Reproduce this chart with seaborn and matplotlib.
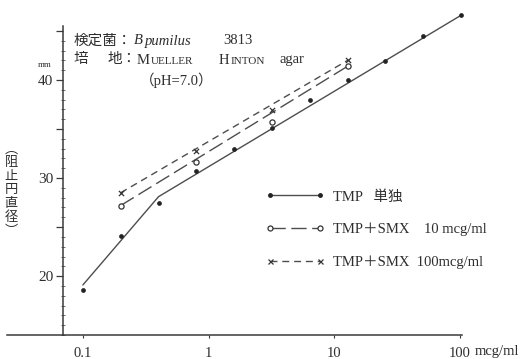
import matplotlib
matplotlib.use("Agg")
import matplotlib.pyplot as plt
from matplotlib.lines import Line2D
from matplotlib.ticker import FixedLocator, MultipleLocator, FuncFormatter, NullLocator
import pandas as pd
import seaborn as sns

# TMP concentration (mcg/ml), doubling dilutions
conc = [0.1, 0.2, 0.4, 0.8, 1.6, 3.2, 6.4, 12.8, 25.6, 51.2, 102.4]
# zone diameter (mm), TMP alone
tmp_alone = [18.6, 24.1, 27.5, 30.7, 33.0, 35.1, 38.0, 40.0, 41.9, 44.5, 46.6]
# fitted line for TMP alone (two segments)
tmp_fit_conc = [0.1, 0.4, 102.4]
tmp_fit_mm = [19.1, 28.1, 46.6]

# TMP + SMX combinations
combo_conc = [0.2, 0.8, 3.2, 12.8]
smx10 = [27.2, 31.6, 35.7, 41.4]
smx100 = [28.5, 32.8, 36.9, 42.0]
combo_fit_conc = [0.2, 12.8]
smx10_fit = [27.2, 41.4]
smx100_fit = [28.5, 42.0]

xtick_vals = [0.1, 1, 10, 100]
xtick_labels = ["0.1", "1", "10", "100"]
ytick_major = [20, 25, 30, 35, 40, 45]

legend_labels = ["TMP   単独", "TMP＋SMX    10 mcg/ml", "TMP＋SMX  100mcg/ml"]

sns.set_theme(style="white")
FAM = ["Liberation Serif", "Noto Sans CJK JP"]
plt.rcParams["font.family"] = FAM
INK = "#2e2e2e"
LINE = "#4d4d4d"

W, H = 520, 359
fig = plt.figure(figsize=(W / 100, H / 100), dpi=100)
fig.patch.set_facecolor("white")
ax = fig.add_axes([7 / W, 24 / H, 455 / W, 309 / H])
ax.set_facecolor("white")
ax.set_xscale("log")

lw = 1.0
long_dash = (0, (11, 4))
short_dash = (0, (5, 3.5))

# fitted lines
sns.lineplot(x=tmp_fit_conc, y=tmp_fit_mm, ax=ax, color=LINE, lw=lw, clip_on=False)
sns.lineplot(x=combo_fit_conc, y=smx10_fit, ax=ax, color=LINE, lw=lw,
             linestyle=long_dash, clip_on=False)
sns.lineplot(x=combo_fit_conc, y=smx100_fit, ax=ax, color=LINE, lw=lw,
             linestyle=short_dash, clip_on=False)

# measured points
sns.scatterplot(x=conc, y=tmp_alone, ax=ax, marker="o", s=8, color="#222222",
                edgecolor="#222222", linewidth=0.5, clip_on=False, zorder=3)
sns.scatterplot(x=combo_conc, y=smx10, ax=ax, marker="o", s=14, facecolor="white",
                edgecolor="#333333", linewidth=0.9, clip_on=False, zorder=3)
sns.scatterplot(x=combo_conc, y=smx100, ax=ax, marker="x", s=14, color="#333333",
                linewidth=0.9, clip_on=False, zorder=3)

# axes
ax.set_xlim(0.0249, 104)
ax.set_ylim(14.0, 45.5)
ax.set_xlabel("")
ax.set_ylabel("")
for s in ("top", "right"):
    ax.spines[s].set_visible(False)
ax.spines["left"].set_position(("data", 0.0693))
for s in ("left", "bottom"):
    ax.spines[s].set_color("#3a3a3a")
    ax.spines[s].set_linewidth(1.1)

ax.xaxis.set_major_locator(FixedLocator(xtick_vals))
ax.set_xticklabels(xtick_labels)
ax.xaxis.set_minor_locator(NullLocator())
ax.tick_params(axis="x", which="major", direction="out", length=2.5, width=0.8,
               color="#3a3a3a", pad=6, labelsize=10.5, labelcolor=INK, bottom=True)

ax.yaxis.set_major_locator(FixedLocator(ytick_major))
ax.yaxis.set_major_formatter(FuncFormatter(lambda v, p: f"{v:.0f}" if v % 10 == 0 else ""))
ax.yaxis.set_minor_locator(MultipleLocator(1))
ax.tick_params(axis="y", which="major", direction="out", length=5, width=0.9,
               color="#3a3a3a", pad=2, labelsize=11, labelcolor=INK, left=True)
ax.tick_params(axis="y", which="minor", direction="inout", length=3, width=0.6,
               color="#555555", left=True)


def px(x, y):
    return x / W, 1 - y / H


# unit labels
fig.text(*px(475, 352), "mcg/ml", ha="left", va="center", fontsize=10.5, color=INK)
fig.text(*px(45, 65), "mm", ha="center", va="center", fontsize=6.5, color=INK)

# vertical axis title, characters stacked
ytitle = "\n".join(["︵", "阻", "止", "円", "直", "径", "︶"])
fig.text(*px(11, 190), ytitle, ha="center", va="center", fontsize=9.5,
         linespacing=1.08, color=INK, family=["Noto Sans CJK JP"])

# test organism and medium
tkw = dict(va="center", color=INK, fontsize=10.5)
fig.text(*px(74, 41), "検定菌：", ha="left", **tkw)
fig.text(*px(134, 41), "B", ha="left", style="italic", **tkw)
fig.text(*px(145, 41), "pumilus", ha="left", style="italic", **tkw)
fig.text(*px(223, 41), "3813", ha="left", **tkw)
fig.text(*px(74, 60), "培", ha="left", **tkw)
fig.text(*px(108, 60), "地：", ha="left", **tkw)
fig.text(*px(137, 60), "M", ha="left", **tkw)
fig.text(*px(151, 61), "UELLER", ha="left", va="center", color=INK, fontsize=8)
fig.text(*px(219, 60), "H", ha="left", **tkw)
fig.text(*px(231, 61), "INTON", ha="left", va="center", color=INK, fontsize=8)
fig.text(*px(280, 60), "agar", ha="left", **tkw)
fig.text(*px(140, 80), "（pH=7.0）", ha="left", **tkw)

# legend with markers at both ends of each sample line
handles = [
    Line2D([], [], color=LINE, lw=lw, marker="o", ms=2.5, mfc="#222222", mec="#222222"),
    Line2D([], [], color=LINE, lw=lw, linestyle=long_dash, marker="o", ms=3.6,
           mfc="white", mec="#333333", mew=0.9),
    Line2D([], [], color=LINE, lw=lw, linestyle=short_dash, marker="x", ms=3.6,
           mec="#333333", mew=0.9),
]
ax.legend(handles, legend_labels, numpoints=2, frameon=False, loc="upper left",
          bbox_to_anchor=px(266, 190), bbox_transform=fig.transFigure,
          borderpad=0, borderaxespad=0, handlelength=4.0, handletextpad=0.6,
          labelspacing=1.3, fontsize=10.5, labelcolor=INK)

fig.savefig("out.png", dpi=100, facecolor="white")
